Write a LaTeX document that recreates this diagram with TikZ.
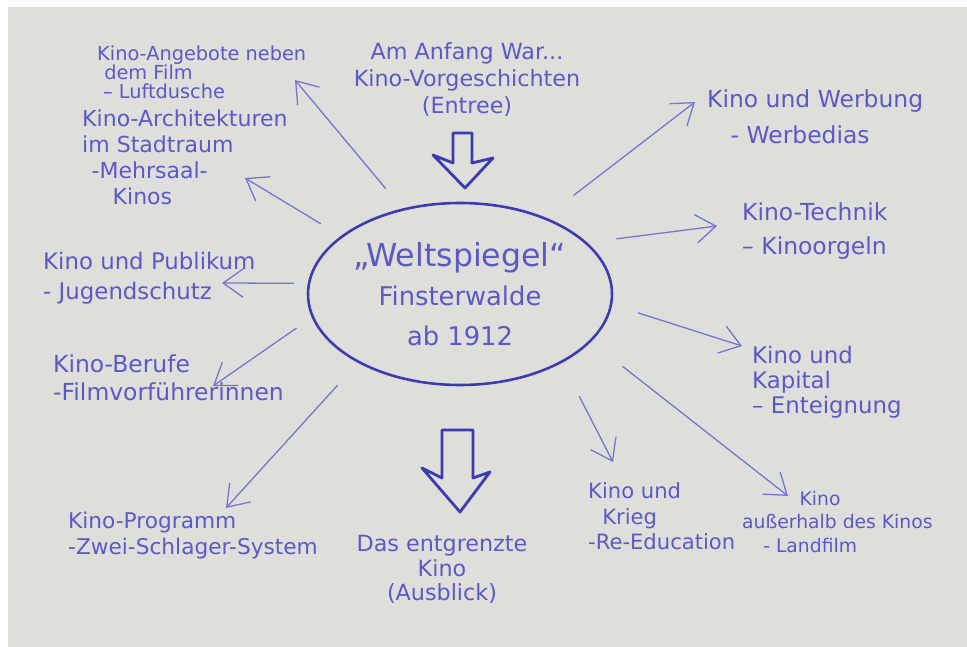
\documentclass[tikz,border=0pt]{standalone}
\usepackage{fontspec}
\setmainfont{DejaVu Sans}
\usetikzlibrary{arrows.meta, shapes.geometric}

\begin{document}
\begin{tikzpicture}[x=0.03cm, y=-0.03cm,
    topic/.style={text=ink, align=left, anchor=north west, inner sep=0pt},
    heading/.style={text=ink, align=center, anchor=north, inner sep=0pt},
    link/.style={draw=pen, line width=1.1pt, -{Straight Barb[length=0.6cm, width=0.85cm]}},
    bigarrow/.style={draw=ink2, line width=2.4pt, line join=round}]
    % Define colors
    \definecolor{paper}{RGB}{222,223,218}
    \definecolor{ink}{RGB}{92,88,200}
    \definecolor{ink2}{RGB}{62,58,178}
    \definecolor{pen}{RGB}{118,116,206}

    % Sheet of paper
    \useasboundingbox (0,0) rectangle (967,647);
    \fill[white] (0,0) rectangle (967,647);
    \fill[paper] (8,7) rectangle (967,647);

    % Centre
    \node[ellipse, draw=ink2, line width=2.2pt, minimum width=9.12cm, minimum height=5.46cm,
          inner sep=0pt, text=ink, align=center, font=\fontsize{22}{34}\selectfont] (ws) at (460,294)
          {{\fontsize{27}{34}\selectfont „Weltspiegel“}\\ Finsterwalde\\ ab 1912};

    % Entree and outlook
    \node[heading, font=\fontsize{19}{23}\selectfont] (anfang) at (467,42) {Am Anfang War...\\ Kino-Vorgeschichten\\ (Entree)};
    \node[heading, font=\fontsize{19}{21}\selectfont] (ausblick) at (442,535) {Das entgrenzte\\ Kino\\ (Ausblick)};
    \draw[bigarrow] (453,133) -- (472,133) -- (472,163) -- (493,158) -- (465,188) -- (433,155) -- (453,163) -- cycle;
    \draw[bigarrow] (442,430) -- (473,430) -- (473,478) -- (490,472) -- (460,512) -- (422,468) -- (442,478) -- cycle;

    % Topics left
    \node[topic, font=\fontsize{16.5}{16}\selectfont] (angebote) at (97,46) {Kino-Angebote neben\\ \hspace*{6pt}dem Film\\ \hspace*{5pt}– Luftdusche};
    \node[topic, font=\fontsize{18.8}{22}\selectfont] (architektur) at (82,110) {Kino-Architekturen\\ im Stadtraum\\ \hspace*{8pt}-Mehrsaal-\\ \hspace*{26pt}Kinos};
    \node[topic, font=\fontsize{19.5}{25.5}\selectfont] (publikum) at (43,252) {Kino und Publikum\\ - Jugendschutz};
    \node[topic, font=\fontsize{20}{24}\selectfont] (berufe) at (53,354) {Kino-Berufe\\ -Filmvorführerinnen};
    \node[topic, font=\fontsize{18.5}{22}\selectfont] (programm) at (68,512) {Kino-Programm\\ -Zwei-Schlager-System};

    % Topics right
    \node[topic, font=\fontsize{20}{31.5}\selectfont] (werbung) at (707,89) {Kino und Werbung\\ \hspace*{20pt}- Werbedias};
    \node[topic, font=\fontsize{20}{29}\selectfont] (technik) at (742,202) {Kino-Technik\\ – Kinoorgeln};
    \node[topic, font=\fontsize{19.5}{21.5}\selectfont] (kapital) at (752,346) {Kino und\\ Kapital\\ – Enteignung};
    \node[topic, font=\fontsize{16}{20}\selectfont] (ausserhalb) at (742,491) {\hspace*{49pt}Kino\\ außerhalb des Kinos\\ \hspace*{18pt}- Landfilm};
    \node[topic, font=\fontsize{18}{22}\selectfont] (krieg) at (588,482) {Kino und\\ \hspace*{12pt}Krieg\\ -Re-Education};

    % Arrow ends
    \coordinate (angebote-tip) at (295,80);
    \coordinate (architektur-tip) at (245,178);
    \coordinate (publikum-tip) at (222,283);
    \coordinate (berufe-tip) at (213,386);
    \coordinate (programm-tip) at (226,508);
    \coordinate (krieg-tip) at (613,462);
    \coordinate (ausserhalb-tip) at (788,496);
    \coordinate (kapital-tip) at (742,346);
    \coordinate (technik-tip) at (717,226);
    \coordinate (werbung-tip) at (695,102);

    % Arrows from the centre
    \draw[link, shorten <=22pt] (ws.124.9) -- (angebote-tip);
    \draw[link, shorten <=20pt] (ws.154.8) -- (architektur-tip);
    \draw[link, shorten <=11.7pt] (ws.176.7) -- (publikum-tip);
    \draw[link, shorten <=15.8pt] (ws.189.2) -- (berufe-tip);
    \draw[link, shorten <=26pt] (ws.214) -- (programm-tip);
    \draw[link, shorten <=32pt] (ws.326.5) -- (krieg-tip);
    \draw[link, shorten <=34pt] (ws.340.5) -- (ausserhalb-tip);
    \draw[link, shorten <=23pt] (ws.356.8) -- (kapital-tip);
    \draw[link, shorten <=25pt] (ws.22.2) -- (technik-tip);
    \draw[link, shorten <=30.5pt] (ws.42.8) -- (werbung-tip);

\end{tikzpicture}
\end{document}
